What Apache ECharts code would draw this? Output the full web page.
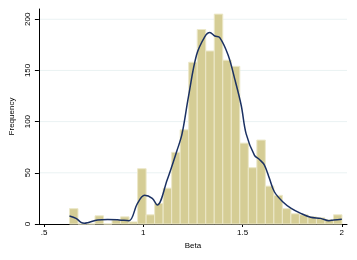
<!DOCTYPE html>
<html>
<head>
<meta charset="utf-8">
<script src="https://cdn.jsdelivr.net/npm/echarts@6/dist/echarts.min.js"></script>
<style>
html,body{margin:0;padding:0;background:#fff;}
#chart{width:357px;height:260px;}
</style>
</head>
<body>
<div id="chart"></div>
<script>
// Histogram bins (Stata-style): lower edge of first bin and bin width
const binStart = 0.628;
const binWidth = 0.0429;
const frequencies = [15, 0, 0, 8, 0, 4, 7, 2, 54, 9, 20, 35, 70, 92, 158, 190, 169, 205, 160, 154, 79, 55, 82, 37, 28, 15, 10, 9, 7, 6, 4, 9];

// Kernel density overlay (in frequency units)
const kdeX = [0.628, 0.661, 0.686, 0.703, 0.72, 0.77, 0.82, 0.878, 0.928, 0.970, 1.006, 1.045, 1.07, 1.12, 1.17, 1.195, 1.227, 1.268, 1.31, 1.335, 1.36, 1.385, 1.427, 1.46, 1.493, 1.518, 1.56, 1.585, 1.61, 1.635, 1.66, 1.702, 1.745, 1.793, 1.843, 1.893, 1.935, 1.96, 2.0];
const kdeY = [7.8, 5.5, 1.6, 0.7, 1.3, 4, 4.5, 4, 3.2, 20, 28, 25, 18.5, 43, 72, 88, 124, 165, 183, 187, 183.6, 182, 165, 142, 116, 88, 67, 63, 57.6, 44.6, 31.5, 21.8, 15.3, 10.4, 6.5, 5.5, 3.2, 3.9, 4.6];

const xTickValues = [0.5, 1, 1.5, 2];
const xTickLabels = ['.5', '1', '1.5', '2'];
const yTickValues = [0, 50, 100, 150, 200];
const yGridValues = [50, 100, 150, 200];

const barData = frequencies.map((f, i) => [binStart + binWidth * i, binStart + binWidth * (i + 1), f]);
const lineData = kdeX.map((x, i) => [x, kdeY[i]]);

const font = 'Liberation Sans, Arial, Helvetica, sans-serif';
const chart = echarts.init(document.getElementById('chart'), null, {renderer: 'canvas'});
chart.setOption({
  animation: false,
  backgroundColor: '#ffffff',
  grid: {left: 36, right: 10, top: 9, bottom: 36},
  xAxis: {
    type: 'value',
    min: 0.474,
    max: 2.026,
    name: 'Beta',
    nameLocation: 'middle',
    nameGap: 15,
    nameTextStyle: {fontFamily: font, fontSize: 8, color: '#000', verticalAlign: 'top'},
    axisLine: {show: true, onZero: false, lineStyle: {color: '#000', width: 1}},
    axisTick: {show: true, length: 3, customValues: xTickValues, lineStyle: {color: '#000'}},
    axisLabel: {
      customValues: xTickValues,
      margin: 5,
      fontFamily: font, fontSize: 8, color: '#000',
      formatter: v => xTickLabels[xTickValues.indexOf(v)] ?? String(v)
    },
    splitLine: {show: false}
  },
  yAxis: {
    type: 'value',
    min: 0,
    max: 210,
    name: 'Frequency',
    nameLocation: 'middle',
    nameRotate: 90,
    nameGap: 19,
    nameTextStyle: {fontFamily: font, fontSize: 8, color: '#000'},
    axisLine: {show: true, lineStyle: {color: '#000', width: 1}},
    axisTick: {show: true, length: 4, customValues: yTickValues, lineStyle: {color: '#000'}},
    axisLabel: {
      customValues: yTickValues,
      rotate: 90,
      margin: 7,
      fontFamily: font, fontSize: 8, color: '#000'
    },
    splitLine: {show: false}
  },
  series: [
    {
      type: 'custom',
      z: 0,
      silent: true,
      data: yGridValues.map(v => [v]),
      encode: {y: 0},
      renderItem: function (params, api) {
        const cs = params.coordSys;
        const y = api.coord([0.474, api.value(0)])[1];
        return {
          type: 'line',
          shape: {x1: cs.x, y1: y, x2: cs.x + cs.width, y2: y},
          style: {stroke: '#eaf2f3', lineWidth: 1}
        };
      }
    },
    {
      type: 'custom',
      z: 2,
      data: barData,
      encode: {x: [0, 1], y: 2},
      renderItem: function (params, api) {
        const p0 = api.coord([api.value(0), api.value(2)]);
        const p1 = api.coord([api.value(1), 0]);
        return {
          type: 'rect',
          shape: {x: p0[0], y: p0[1], width: p1[0] - p0[0], height: p1[1] - p0[1]},
          style: {fill: '#d5cd95', stroke: '#ece8c9', lineWidth: 1}
        };
      }
    },
    {
      type: 'line',
      z: 3,
      data: lineData,
      smooth: 0.35,
      showSymbol: false,
      lineStyle: {color: '#1b3163', width: 1.5}
    }
  ]
});
</script>
</body>
</html>
